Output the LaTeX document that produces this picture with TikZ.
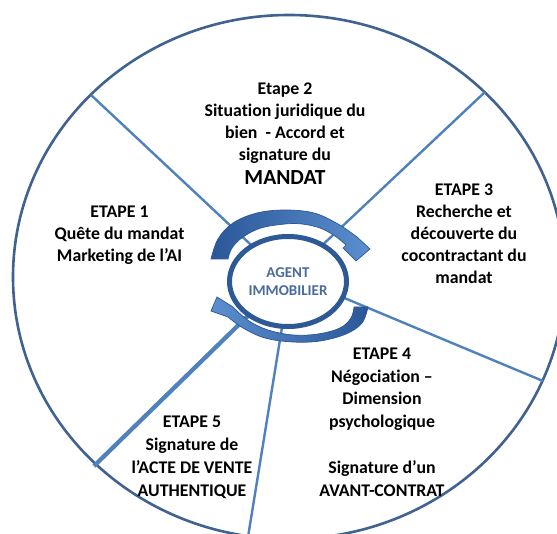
\documentclass[tikz,border=0pt]{standalone}
\usepackage{fontspec}
\setmainfont{Carlito}[Ligatures=NoCommon]
\usetikzlibrary{shapes.geometric}
\definecolor{ringc}{HTML}{3F6290}
\definecolor{spokec}{HTML}{4F81BD}
\definecolor{bandd}{HTML}{2B5797}
\definecolor{bandl}{HTML}{5B8FCF}
\definecolor{hubc}{HTML}{2D5A94}
\definecolor{hubtxt}{HTML}{4A6B99}
\begin{document}
\begin{tikzpicture}[x=1pt,y=-1pt,
  spokeline/.style={spokec, line width=2.4pt},
  thickspoke/.style={spokec, line width=4.3pt},
  band/.style={left color=bandd, right color=bandl, draw=bandd, line width=0.7pt},
  bandtwo/.style={left color=bandl, right color=bandd, draw=bandd, line width=0.7pt},
  hub/.style={ellipse, draw=hubc, line width=5pt, fill=white, minimum width=117pt, minimum height=90pt, inner sep=0pt,
     text=hubtxt, font=\fontsize{15}{17.3}\selectfont\bfseries, align=center},
  steptext/.style={align=center, inner sep=0pt, font=\fontsize{17.8}{22}\selectfont\bfseries}]
\useasboundingbox (0,0) rectangle (557,534);
\clip (0,0) rectangle (557,534);
\fill[white] (0,0) rectangle (557,534);
% outer ring
\draw[ringc, line width=2.6pt] (289,277) ellipse [x radius=276, y radius=262];
% spoke end points
\coordinate (s1o) at (91,95);   \coordinate (s1i) at (265,258);
\coordinate (s2o) at (485,92);  \coordinate (s2i) at (315,252);
\coordinate (s3o) at (543,381); \coordinate (s3i) at (330,292);
\coordinate (s4o) at (248,537); \coordinate (s4i) at (284,315);
\coordinate (s5o) at (94,466);  \coordinate (s5i) at (258,306);
\draw[spokeline] (s1i) -- (s1o);
\draw[spokeline] (s2i) -- (s2o);
\draw[spokeline] (s3i) -- (s3o);
\draw[spokeline] (s4i) -- (s4o);
\draw[thickspoke] (s5i) -- (s5o);
% circular arrows
\path[band] plot[smooth,tension=0.6] coordinates {(211,259) (218,239) (233,223) (257,213) (285,210) (314,213) (338,224) (357,237)}
  -- (370,249) -- (356,261) -- (343,248)
  -- plot[smooth,tension=0.6] coordinates {(346,245) (335,236) (320,228) (302,224) (285,224) (261,228) (243,237) (232,248) (228,259)} -- cycle;
\path[bandtwo] plot[smooth,tension=0.6] coordinates {(368,307) (362,323) (346,334) (320,341) (293,342) (265,338) (243,328) (228,317)}
  -- (211,311) -- (217,297) -- (233,307)
  -- plot[smooth,tension=0.6] coordinates {(235,309) (249,321) (268,330) (293,335) (318,334) (340,328) (351,318) (354,307)} -- cycle;
% hub
\node[hub] (hub) at (288,281.5) {AGENT\\IMMOBILIER};
% step texts
\node[steptext] (e2) at (285,133.4) {Etape 2\\Situation juridique du\\bien~~- Accord et\\signature du\\[2pt]{\fontsize{21.5}{24}\selectfont MANDAT}};
\node[steptext] (e1) at (119.5,235.5) {ETAPE 1\\Quête du mandat\\Marketing de l’AI};
\node[steptext] (e3) at (464,233.4) {ETAPE 3\\Recherche et\\découverte du\\cocontractant du\\mandat};
\node[steptext, font=\fontsize{17.8}{22.8}\selectfont\bfseries] (e4) at (382,421.9) {ETAPE 4\\Négociation –\\Dimension\\psychologique\\[22.8pt]Signature d’un\\AVANT-CONTRAT};
\node[steptext, font=\fontsize{17.8}{23}\selectfont\bfseries] (e5) at (192,457.5) {ETAPE 5\\Signature de\\l’ACTE DE VENTE\\AUTHENTIQUE};
\end{tikzpicture}
\end{document}
